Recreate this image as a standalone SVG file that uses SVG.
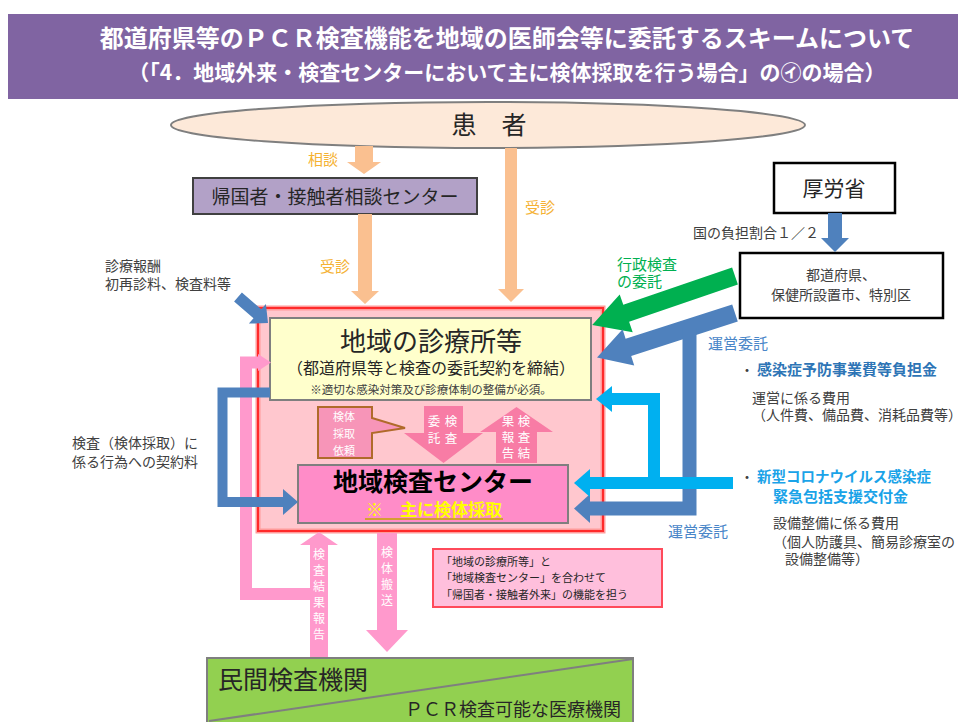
<svg xmlns="http://www.w3.org/2000/svg" width="958" height="722" viewBox="0 0 958 722">
<style>
text{font-family:"Noto Sans CJK JP","Noto Sans CJK SC",sans-serif;}
.t{fill:#404040;font-size:14px;}
.w{fill:#ffffff;}
.mid{text-anchor:middle;}
.or{fill:#f5b233;font-size:15px;}
.bl{fill:#4a86c8;font-size:15px;}
.box{stroke:#7f7f7f;stroke-width:2;}
</style>
<rect width="958" height="722" fill="#ffffff"/>
<g id="title">
<rect x="8" y="14" width="950" height="85" fill="#8064a2"/>
<text x="507" y="47" class="w mid" font-size="24" font-weight="bold">都道府県等のＰＣＲ検査機能を地域の医師会等に委託するスキームについて</text>
<text x="507" y="80" class="w mid" font-size="21" font-weight="bold">（「4．地域外来・検査センターにおいて主に検体採取を行う場合」の㋑の場合）</text>
</g>
<g id="patient">
<ellipse cx="488" cy="125" rx="317" ry="23" fill="#fde9d9" stroke="#7f7f7f" stroke-width="2"/>
<text x="489" y="134" class="mid" font-size="25" fill="#262626">患　者</text>
</g>
<g id="consult-center">
<rect x="193" y="178" width="284" height="36" fill="#b2a1c7" stroke="#404040" stroke-width="2"/>
<text x="335" y="204" class="mid" font-size="19" fill="#262626">帰国者・接触者相談センター</text>
</g>
<g id="mhlw">
<rect x="774" y="163" width="121" height="50" fill="#ffffff" stroke="#000" stroke-width="2.5"/>
<text x="834" y="196" class="mid" font-size="21" fill="#262626">厚労省</text>
</g>
<g id="prefecture">
<rect x="740" y="253" width="203" height="65" fill="#ffffff" stroke="#000" stroke-width="2.5"/>
<text class="mid t" font-size="15"><tspan x="841" y="280">都道府県、</tspan><tspan x="841" y="300">保健所設置市、特別区</tspan></text>
</g>
<g id="region">
<rect x="258" y="308" width="345" height="223" fill="#ffc7ce" stroke="#ff9a9a" stroke-width="5"/>
<rect x="258" y="308" width="345" height="223" fill="none" stroke="#ff2a2a" stroke-width="2"/>
</g>
<g id="clinic">
<rect x="270" y="318" width="321" height="82" fill="#ffffcc" class="box"/>
<text x="431" y="351" class="mid" font-size="26" fill="#262626">地域の診療所等</text>
<text x="431" y="374" class="mid" font-size="16" fill="#262626">（都道府県等と検査の委託契約を締結）</text>
<text x="431" y="394" class="mid" font-size="11.5" fill="#404040">※適切な感染対策及び診療体制の整備が必須。</text>
</g>
<g id="callout">
<path d="M318 407 H372 V418 L405 428 L372 433 V458 H318 Z" fill="#f795b8" stroke="#b06a2a" stroke-width="2"/>
<text class="w mid" font-size="11"><tspan x="344" y="421">検体</tspan><tspan x="344" y="438">採取</tspan><tspan x="344" y="455">依頼</tspan></text>
</g>
<g id="test-center">
<rect x="298" y="465" width="270" height="58" fill="#ff8cc8" class="box"/>
<text x="433" y="491" class="mid" font-size="25" font-weight="bold" fill="#000">地域検査センター</text>
<text x="434" y="516" class="mid" font-size="17" font-weight="bold" fill="#ffff00">※　主に検体採取</text>
<line x1="365" y1="519" x2="503" y2="519" stroke="#c9a400" stroke-width="1.5"/>
</g>
<g id="note">
<rect x="433" y="549" width="229" height="58" fill="#ffbfdc" stroke="#ff4a5a" stroke-width="2"/>
<text font-size="11" fill="#262626"><tspan x="441" y="566">「地域の診療所等」と</tspan><tspan x="441" y="582">「地域検査センター」を合わせて</tspan><tspan x="441" y="599">「帰国者・接触者外来」の機能を担う</tspan></text>
</g>
<g id="lab">
<rect x="207" y="658" width="426" height="70" fill="#92d050" class="box"/>
<line x1="209" y1="721" x2="633" y2="659" stroke="#7f7f7f" stroke-width="2"/>
<text x="218" y="689" font-size="25" fill="#262626">民間検査機関</text>
<text x="621" y="716" text-anchor="end" font-size="18" fill="#262626">ＰＣＲ検査可能な医療機関</text>
</g>
<g id="connectors">
<polygon points="355,146 373,146 373,162 381,162 364,174 347,162 355,162" fill="#fac090"/>
<polygon points="358,214 372,214 372,291 379,291 365,304 351,291 358,291" fill="#fac090"/>
<polygon points="505,148 517,148 517,289 524,289 511,302 498,289 505,289" fill="#fac090"/>
<polygon points="828,213 842,213 842,238 849,238 835,252 821,238 828,238" fill="#4f81bd"/>
<polygon points="732.1,267.5 623.3,304.8 619.7,294.4 592.2,324.9 632.7,332.2 629.1,321.8 737.9,284.5" fill="#00b050"/>
<polygon points="732.2,304.4 625.6,338.7 622.6,329.2 597,357.4 634.2,365.4 631.2,355.9 737.8,321.6" fill="#4f81bd"/>
<polyline points="689.5,328 689.5,508.5 589,508.5" fill="none" stroke="#4f81bd" stroke-width="14"/>
<polygon points="590,494 590,523 574,508.5" fill="#4f81bd"/>
<polyline points="654,483 654,399 611,399" fill="none" stroke="#00b0f0" stroke-width="12"/>
<polygon points="612,386 612,412 596,399" fill="#00b0f0"/>
<polyline points="733,483 589,483" fill="none" stroke="#00b0f0" stroke-width="12"/>
<polygon points="590,469 590,497 574,483" fill="#00b0f0"/>
<polyline points="318,594 246,594 246,362.5 259,362.5" fill="none" stroke="#ff99cc" stroke-width="12"/>
<polygon points="258,354 258,371 271,362.5" fill="#ff99cc"/>
<polyline points="270,392.5 222.5,392.5 222.5,502 284,502" fill="none" stroke="#4f81bd" stroke-width="10"/>
<polygon points="283,489 283,515 298,502" fill="#4f81bd"/>
<polygon points="234.1,301.5 241.9,292.5 261.3,309.3 265.9,304 268,323 248.9,323.6 253.5,318.3" fill="#4f81bd"/>
<polygon points="424,406 463,406 463,433 483,433 443.5,463 404,433 424,433" fill="#f87ca5"/>
<polygon points="496,463 537,463 537,432 553,432 516.5,407 480,432 496,432" fill="#f87ca5"/>
<polygon points="310,657 328,657 328,545 338,545 319,532 300,545 310,545" fill="#ff99cc"/>
<polygon points="377,533 397,533 397,630 408,630 387,652 366,630 377,630" fill="#ff99cc"/>
<text class="w mid" font-size="12.5"><tspan x="451" y="426">検</tspan><tspan x="451" y="443">査</tspan><tspan x="434" y="426">委</tspan><tspan x="434" y="443">託</tspan></text>
<text class="w mid" font-size="12.5"><tspan x="524" y="426">検</tspan><tspan x="524" y="442">査</tspan><tspan x="524" y="458">結</tspan><tspan x="508" y="426">果</tspan><tspan x="508" y="442">報</tspan><tspan x="508" y="458">告</tspan></text>
<text class="w mid" font-size="12"><tspan x="319" y="559">検</tspan><tspan x="319" y="575">査</tspan><tspan x="319" y="591">結</tspan><tspan x="319" y="607">果</tspan><tspan x="319" y="623">報</tspan><tspan x="319" y="639">告</tspan></text>
<text class="w mid" font-size="12"><tspan x="387" y="557">検</tspan><tspan x="387" y="573">体</tspan><tspan x="387" y="589">搬</tspan><tspan x="387" y="605">送</tspan></text>
</g>
<g id="labels">
<text x="308" y="165" class="or">相談</text>
<text x="320" y="272" class="or">受診</text>
<text x="525" y="213" class="or">受診</text>
<text class="t" font-size="14.5"><tspan x="105" y="271">診療報酬</tspan><tspan x="105" y="289">初再診料、検査料等</tspan></text>
<text class="t" font-size="14.5"><tspan x="72" y="448">検査（検体採取）に</tspan><tspan x="72" y="467">係る行為への契約料</tspan></text>
<text x="693" y="238" class="t" font-size="13.5">国の負担割合１／２</text>
<text fill="#00b050" font-size="15"><tspan x="617" y="270">行政検査</tspan><tspan x="617" y="287">の委託</tspan></text>
<text x="708" y="349" class="bl">運営委託</text>
<text x="668" y="537" class="bl">運営委託</text>
<text x="740" y="375" class="t">・</text>
<text x="757" y="375" fill="#2e75b6" font-size="15" font-weight="bold">感染症予防事業費等負担金</text>
<text class="t" font-size="12.5"><tspan x="752" y="403">運営に係る費用</tspan><tspan x="752" y="420">（人件費、備品費、消耗品費等）</tspan></text>
<text x="740" y="482" class="t">・</text>
<text fill="#1aa3e8" font-weight="bold"><tspan x="757" y="482" font-size="14.5">新型コロナウイルス感染症</tspan><tspan x="773" y="502" font-size="15">緊急包括支援交付金</tspan></text>
<text class="t" font-size="13.5"><tspan x="773" y="528">設備整備に係る費用</tspan><tspan x="773" y="547">（個人防護具、簡易診療室の</tspan><tspan x="785" y="564">設備整備等）</tspan></text>
</g>
</svg>
